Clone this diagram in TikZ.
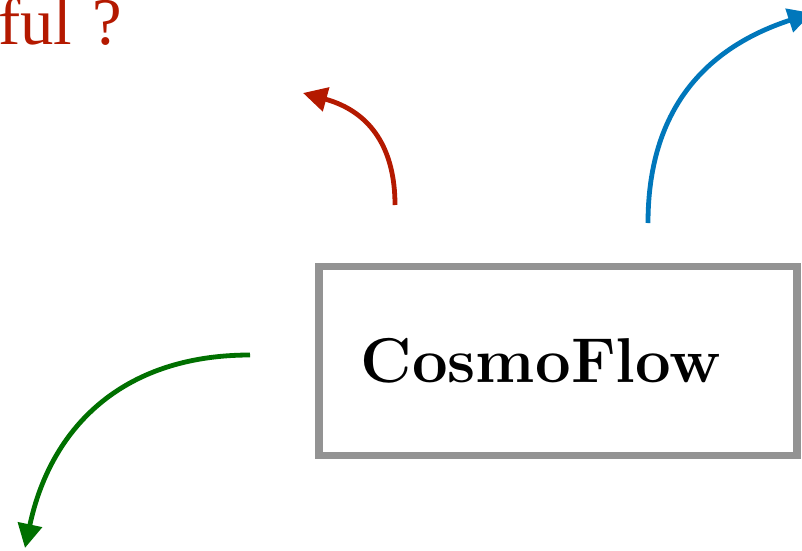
\documentclass[tikz,border=0pt]{standalone}
\usepackage{fontspec}
\newfontfamily\labelfont{Liberation Serif}
\usetikzlibrary{arrows.meta}
\definecolor{cfred}{RGB}{180,25,0}
\definecolor{cfblue}{RGB}{0,119,187}
\definecolor{cfgreen}{RGB}{0,112,0}
\definecolor{cfgray}{RGB}{147,147,147}
\tikzset{
  flowarrow/.style={line width=3.6pt,-{Triangle[length=18pt,width=18pt]}},
  mainbox/.style={draw=cfgray,line width=5.6pt,minimum width=358.5pt,minimum height=141.7pt,
    inner xsep=31pt,text width=296pt,align=left,font=\fontsize{47.5}{52}\selectfont\bfseries},
  redlabel/.style={text=cfred,inner sep=0pt,font=\labelfont\fontsize{50}{54}\selectfont}
}
\begin{document}
\begin{tikzpicture}[x=0.75pt,y=-0.75pt]
\useasboundingbox (0,0) rectangle (802,550);
\node[mainbox] (cf) at (558,361) {CosmoFlow};
\node[redlabel,anchor=base west] (q) at (-2,44) {ful\hskip0.3em?};
\coordinate (rs) at (395,205);
\coordinate (re) at (303,93);
\coordinate (bs) at (648,223);
\coordinate (be) at (812,13);
\coordinate (gs) at (250,355);
\coordinate (ge) at (25,548);
\draw[flowarrow,cfred] (rs) .. controls (395,150) and (372,112) .. (re);
\draw[flowarrow,cfblue] (bs) .. controls (648,110) and (705,48) .. (be);
\draw[flowarrow,cfgreen] (gs) .. controls (120,355) and (50,430) .. (ge);
\end{tikzpicture}
\end{document}
